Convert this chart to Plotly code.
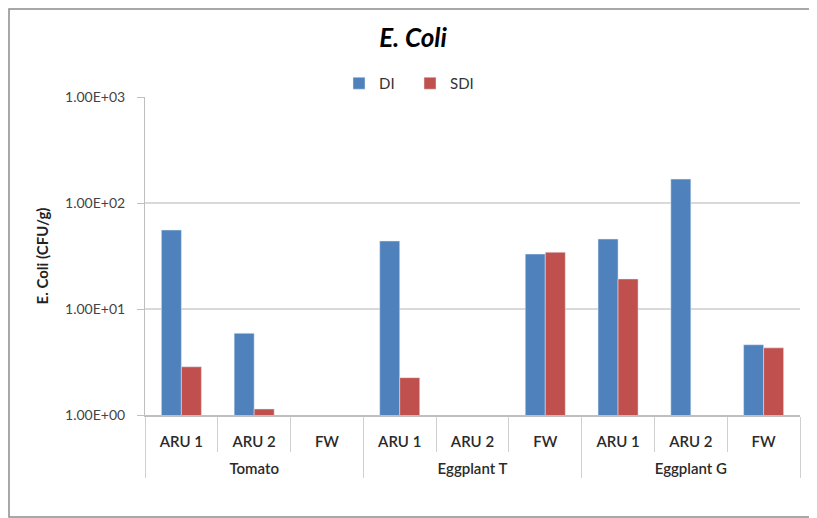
import plotly.graph_objects as go

crops = ["Tomato"] * 3 + ["Eggplant T"] * 3 + ["Eggplant G"] * 3
sites = ["ARU 1", "ARU 2", "FW"] * 3
di_values = [55.6, 5.9, None, 43.8, None, 33.0, 45.7, 168.0, 4.6]
sdi_values = [2.85, 1.14, None, 2.25, None, 34.3, 19.2, None, 4.3]
tick_vals = [1, 10, 100, 1000]
tick_text = ["1.00E+00", "1.00E+01", "1.00E+02", "1.00E+03"]

# the page body adds an 8px offset, so the figure is laid out 8px smaller
OFF = 8
FONT = "Lato"
W, H = 817 - OFF, 518 - OFF
L, T = 145 - OFF, 97 - OFF
R = W - (800 - OFF)
B = H - (415 - OFF)
pw, ph = W - L - R, H - T - B

# first-level labels get a blank trailing line to push the group row down
site_labels = [s + "<br> " for s in sites]

fig = go.Figure()
fig.add_trace(go.Bar(name="DI", x=[crops, site_labels], y=di_values, marker_color="#4f81bd"))
fig.add_trace(go.Bar(name="SDI", x=[crops, site_labels], y=sdi_values, marker_color="#c0504d"))

fig.update_layout(
    width=W, height=H,
    margin=dict(l=L, r=R, t=T, b=B, autoexpand=False),
    paper_bgcolor="white", plot_bgcolor="white",
    barmode="group", bargap=0.45, bargroupgap=0,
    font=dict(family=FONT, color="#262626"),
    title=dict(text="<b><i>E. Coli</i></b>", x=(413 - OFF) / W, xref="container", xanchor="center",
               y=1 - (38 - OFF) / H, yref="container", yanchor="middle",
               font=dict(size=26, color="black")),
    legend=dict(orientation="h", x=(353 - OFF - 14) / W, xref="container", xanchor="left",
                y=1 - (83.5 - OFF) / H, yref="container", yanchor="middle",
                font=dict(size=15, color="#333"),
                itemwidth=30, entrywidth=26, entrywidthmode="pixels"),
    showlegend=True,
)
fig.update_yaxes(
    type="log", range=[0, 3], tickvals=tick_vals, ticktext=tick_text,
    showgrid=True, gridcolor="#d9d9d9", gridwidth=1.5,
    showline=True, linecolor="#bfbfbf", linewidth=1,
    ticks="outside", ticklen=7, tickcolor="#bfbfbf", ticklabelstandoff=9,
    tickfont=dict(size=14, color="#444"),
    title=dict(text="<b>E. Coli (CFU/g)</b>", font=dict(size=15, color="#222"), standoff=12),
    zeroline=False,
)
fig.update_xaxes(
    type="multicategory",
    showline=True, linecolor="#bfbfbf", linewidth=1.5,
    tickson="boundaries", ticks="outside", ticklen=35, tickcolor="#d0d0d0",
    showdividers=True, dividercolor="#d0d0d0", dividerwidth=1,
    ticklabelstandoff=12,
    tickfont=dict(size=15, color="#2a2a2a", weight=600),
)

# outer chart border
fig.add_shape(type="rect", xref="paper", yref="paper",
              x0=(1 - L) / pw, x1=(812 - OFF - L) / pw,
              y0=-(H - 1 - (H - B)) / ph, y1=(H - B - 1) / ph,
              line=dict(color="#8c8c8c", width=1.5), layer="below")

fig.write_html("out.html")
